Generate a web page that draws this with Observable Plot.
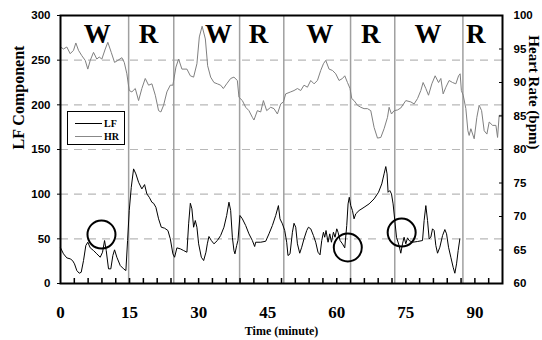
<!DOCTYPE html>
<html>
<head>
<meta charset="utf-8">
<script src="https://cdn.jsdelivr.net/npm/d3@7"></script>
<script src="https://cdn.jsdelivr.net/npm/@observablehq/plot@0.6"></script>
<style>
  html, body { margin: 0; padding: 0; background: #fff; }
  #wrap { position: relative; width: 542px; height: 340px; }
  #legend { position: absolute; left: 67px; top: 111px; width: 56px; height: 32px;
    border: 1px solid #000; background: #fff; font-family: "Liberation Serif", serif;
    font-weight: bold; font-size: 10px; }
  .row { position: absolute; left: 7px; height: 12px; display: flex; align-items: center; }
  .sw { width: 27px; height: 0; margin-right: 2px; }
</style>
</head>
<body>
<div id="wrap">
  <div id="chart"></div>
  <div id="legend">
    <div class="row" style="top:5px"><span class="sw" style="border-top:1px solid #000"></span><span>LF</span></div>
    <div class="row" style="top:18px"><span class="sw" style="border-top:1px solid #888"></span><span>HR</span></div>
  </div>
</div>
<script>
// ---- data ----
const hrTime = [0,0.65,1.37,2.11,2.83,3.33,3.91,4.63,5.37,5.93,6.46,7.17,7.89,8.41,8.98,9.72,10.28,11.02,11.74,12.46,13.33,13.85,14.41,14.93,15.5,16.24,16.96,17.67,18.41,19.13,19.85,20.59,21.3,21.8,22.39,23.11,23.85,24.41,25.07,25.65,26.37,27.46,28.2,28.91,29.63,30.15,30.76,31.46,31.96,32.61,33.33,34.07,34.78,35.37,36.09,36.96,37.67,38.41,38.76,39.5,40.22,40.93,41.67,42.02,42.76,43.48,44.07,44.78,45.65,46.37,47.11,47.83,48.41,48.91,50,50.72,51.46,52.17,52.89,53.63,54.35,55.07,55.8,56.52,57.11,57.61,58.33,59.07,59.78,60.5,61.24,61.74,62.33,62.89,63.26,63.76,64.5,65.22,65.93,66.67,67.39,68.11,68.85,69.57,70.28,71.02,71.37,71.89,72.46,73.2,73.91,75,76.09,76.8,77.54,78.26,78.76,79.35,79.93,80.65,81.37,82.11,82.61,83.11,83.7,84.41,85.15,85.87,86.46,86.8,87.07,87.46,88.04,88.48,88.76,89.13,89.85,90.43,90.93,91.46,92.02,92.61,93.11,93.85,94.57,94.93,95.28,96];
const hrValue = [95.3,95.0,95.3,94.3,94.8,95.9,94.8,94.0,93.3,92.0,93.3,94.5,93.5,93.8,93.5,95.0,96.0,94.5,93.0,93.3,93.7,93.0,91.3,88.8,88.6,89.1,87.3,89.1,90.6,89.6,89.8,88.1,85.8,85.6,86.6,88.6,89.6,89.6,92.3,93.5,92.0,92.0,91.0,90.8,92.8,96.8,98.4,96.5,92.5,90.8,90.0,89.8,89.6,89.1,89.8,90.6,90.8,90.3,87.8,87.3,86.3,85.8,84.8,84.4,85.8,85.6,87.3,85.8,86.3,86.1,85.3,86.8,87.1,88.3,88.6,88.8,89.1,88.8,89.6,89.3,90.3,89.8,90.3,91.8,92.8,93.3,92.0,91.8,91.3,90.3,90.6,91.0,90.0,89.1,87.6,87.3,86.6,86.3,86.1,86.1,85.8,83.3,81.7,81.8,83.1,84.8,86.3,85.3,85.8,85.9,86.2,87.3,87.1,86.8,87.6,88.8,90.0,89.1,88.1,89.8,91.0,90.0,90.6,88.3,89.3,90.3,90.0,89.8,91.0,91.3,88.8,88.1,86.1,82.8,82.1,83.1,81.6,84.8,86.6,85.8,82.8,82.3,84.1,83.6,83.6,81.8,85.1,85.1];

const lfTime = [0,0.65,1.37,2.11,2.61,3.04,3.54,4.07,4.5,5,5.5,5.93,6.46,7.17,7.89,8.63,9.13,9.57,9.93,10.43,10.93,11.37,11.74,12.24,12.98,13.7,14.2,14.57,14.93,15.37,15.87,16.37,16.96,17.67,18.26,18.76,19.28,19.85,20.22,20.72,21.3,21.89,22.61,23.33,23.85,24.41,24.78,25.28,26.02,26.74,27.46,27.83,28.2,28.54,28.91,29.28,29.63,30,30.59,31.09,31.59,31.89,32.24,32.76,33.33,34.07,34.78,35.5,36.09,36.59,36.96,37.33,37.67,37.89,38.26,38.54,38.98,39.5,40.22,40.93,41.67,42.17,42.39,43.48,44.57,45.28,46.02,46.74,47.33,47.67,48.2,48.7,49.13,49.41,49.85,50.37,50.72,51.09,51.46,51.96,52.39,52.89,53.48,53.85,54.35,54.93,55.43,55.93,56.37,56.74,57.11,57.39,57.67,58.11,58.48,58.85,59.28,59.63,60,60.28,60.72,61.24,61.74,62.17,62.46,62.72,63.04,63.41,63.76,64.13,64.85,65.93,67.02,68.11,69.07,69.78,70.28,70.65,70.93,71.15,71.52,71.89,72.24,72.61,72.98,73.54,73.91,74.28,74.63,75,75.37,75.72,76.46,77.54,78.63,78.98,79.35,79.72,80.07,80.43,80.8,81.15,81.52,81.89,82.39,82.98,83.48,83.85,84.28,84.78,85.28,85.65,86.02,86.37,86.74];
const lfValue = [40,33.2,28.7,27.6,25.7,22,14.5,11.5,12.6,25.7,42.5,46.2,39.9,36.9,33.2,29.4,35,48.1,36.9,16.4,16.4,31.3,37.7,29.4,20.1,16.4,14.5,48.1,81.7,107.7,128.3,122.7,113.3,105.9,110.7,100.3,96.5,90.9,89.8,85.3,72.4,63,61.9,59.3,50,33.2,29.4,39.9,38.8,36.9,35,66.8,89.8,83.6,63,70.5,63,44.4,29.4,25.7,35,44.4,52.6,48.1,44.4,48.1,53.7,63,76.1,91,81.7,51.8,36.9,33.2,42.5,48.1,76.1,72.4,64.9,55.6,48.1,41.4,46.2,46.2,47.3,55.6,64.9,76.1,87.2,72.4,66.8,59.3,46.2,31.3,33.2,57.4,67.4,63,44.4,33.9,40.6,50,59.3,63,61.2,53.7,46.2,35,32.1,48.1,57.4,51.8,59.3,46.2,55.6,46.2,57.4,51.8,61.2,57.4,48.1,44.4,39.9,64.9,89.1,96.5,87.2,81.7,72.4,78,81.7,85.3,89.1,94.7,102.1,111.5,122.7,130.9,122.7,102.1,104,100.3,89.1,70.5,51.8,42.5,33.9,44.4,51.8,44.4,51.1,48.1,46.2,47,48.1,70.5,87.2,70.5,50,51.8,61.2,59.3,42.5,33.9,40.6,53.7,60.4,55.6,40.6,29.4,18.2,11.5,22,36.9,50];

const boundaries = [14.8, 24.6, 38.9, 48.5, 63.0, 72.6, 87.4];
const phaseLabels = ["W", "R", "W", "R", "W", "R", "W", "R"];
const phaseX = [8.0, 19.1, 34.3, 43.0, 56.3, 67.4, 79.8, 90.2];
const circleX = [8.9, 62.4, 74.1];
const circleY = [54.8, 40.3, 57.0];
const lfTicks = [0, 50, 100, 150, 200, 250, 300];
const hrTicks = [60, 65, 70, 75, 80, 85, 90, 95, 100];
const xTicks = [0, 15, 30, 45, 60, 75, 90];
const xMinor = d3.range(3, 96, 3);
const gridLF = [50, 100, 150, 200, 250];

// HR (60..100 bpm) mapped onto the LF axis (0..300)
const hrToLF = h => (h - 60) * 7.5;

const hrData = hrTime.map((t, i) => ({t, v: hrToLF(hrValue[i])}));
const lfData = lfTime.map((t, i) => ({t, v: lfValue[i]}));
const phases = phaseLabels.map((s, i) => ({s, x: phaseX[i], y: 279}));
const circles = circleX.map((x, i) => ({x, y: circleY[i]}));

const sans = "Liberation Sans, Arial, sans-serif";
const serif = "Liberation Serif, Times New Roman, serif";

const chart = Plot.plot({
  width: 542,
  height: 340,
  marginLeft: 60,
  marginRight: 40,
  marginTop: 15,
  marginBottom: 57,
  style: {background: "#fff", overflow: "visible"},
  x: {domain: [0, 96]},
  y: {domain: [0, 300]},
  marks: [
    Plot.ruleY(gridLF, {stroke: "#b8b8b8", strokeWidth: 1.2, strokeDasharray: "8,6"}),
    Plot.ruleX(boundaries, {stroke: "#a0a0a0", strokeWidth: 1.5}),
    Plot.line(hrData, {x: "t", y: "v", stroke: "#808080", strokeWidth: 1}),
    Plot.line(lfData, {x: "t", y: "v", stroke: "#000", strokeWidth: 1}),
    Plot.dot(circles, {x: "x", y: "y", r: 14, stroke: "#000", strokeWidth: 2, fill: "none"}),
    Plot.text(phases, {x: "x", y: "y", text: "s", fontSize: 27, fontWeight: "bold", fontFamily: serif, fill: "#000"}),
    Plot.frame({stroke: "#000", strokeWidth: 2}),
    Plot.axisY(lfTicks, {anchor: "left", tickSize: 3, tickPadding: 7, fontSize: 11.5, fontWeight: "bold", fontFamily: sans, label: null, stroke: "#000"}),
    Plot.axisY(hrTicks.map(hrToLF), {anchor: "right", tickSize: -4, tickPadding: 15, tickFormat: v => v / 7.5 + 60, fontSize: 11.5, fontWeight: "bold", fontFamily: sans, label: null, stroke: "#000"}),
    Plot.axisX(xTicks, {anchor: "bottom", tickSize: 0, tickPadding: 22, fontSize: 17, fontWeight: "bold", fontFamily: serif, label: null}),
    Plot.axisX(xMinor, {anchor: "bottom", tickSize: -5, tickFormat: () => "", label: null, stroke: "#000", strokeWidth: 1.5}),
    Plot.text(["Time (minute)"], {frameAnchor: "bottom", dy: 51, fontSize: 12, fontWeight: "bold", fontFamily: serif, fill: "#000"}),
    Plot.text(["LF Component"], {frameAnchor: "left", dx: -42, rotate: -90, fontSize: 16, fontWeight: "bold", fontFamily: serif, fill: "#000"}),
    Plot.text(["Heart Rate (bpm)"], {frameAnchor: "right", dx: 31, rotate: 90, fontSize: 15, fontWeight: "bold", fontFamily: serif, fill: "#000"})
  ]
});
document.getElementById("chart").appendChild(chart);
</script>
</body>
</html>
